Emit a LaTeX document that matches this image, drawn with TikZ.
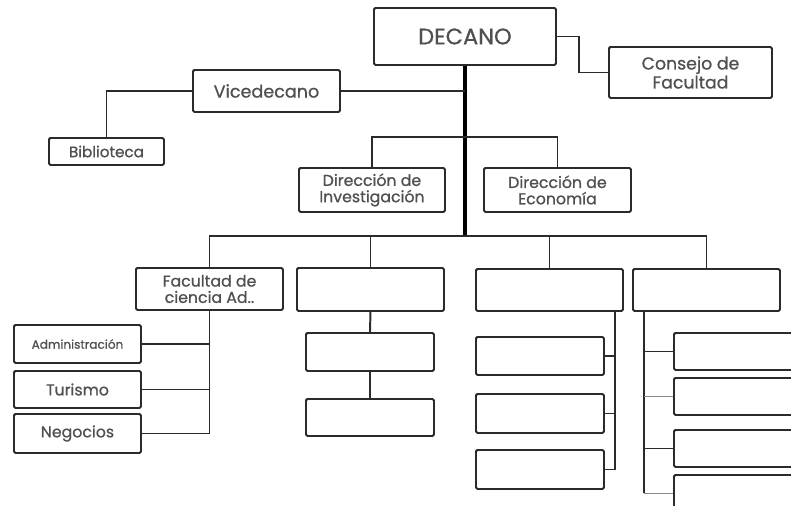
\documentclass[tikz,border=0pt]{standalone}
\usepackage{fontspec}
\setmainfont{Poppins}[FakeBold=0.8]
\usepackage{xcolor}
\usetikzlibrary{positioning, calc}
\definecolor{linea}{HTML}{2B2B2B}
\definecolor{texto}{HTML}{505050}
\definecolor{tenue}{HTML}{8A8A8A}

\begin{document}
\begin{tikzpicture}[x=0.025cm, y=-0.025cm,
    caja/.style={draw=linea, line width=1.4pt, rounded corners=1pt, anchor=north west,
                 inner sep=0pt, align=center, text=texto, font=\fontsize{11.2}{11.6}\selectfont},
    tam/.style 2 args={minimum width=#1*0.025cm, minimum height=#2*0.025cm},
    grande/.style={font=\fontsize{12.5}{15}\selectfont},
    chica/.style={font=\fontsize{8.6}{10}\selectfont},
    rama/.style={draw=linea, line width=1.4pt},
    tronco/.style={draw=black, line width=2.2pt},
    ramatenue/.style={draw=tenue, line width=0.8pt}]

    % --- Page ---
    \useasboundingbox (0,0) rectangle (791,506);
    \fill[white] (0,0) rectangle (791,506);
    \clip (0,0) rectangle (791,506);

    % --- Top level ---
    \node[caja, font=\fontsize{16}{18}\selectfont, tam={182}{57}] (decano) at (373,7) {DECANO};
    \node[caja, font=\fontsize{12.3}{13.5}\selectfont, tam={163}{51}] (consejo) at (608,46) {Consejo de\\Facultad};
    \node[caja, grande, tam={147}{42}] (vicedecano) at (192,69) {Vicedecano};
    \node[caja, font=\fontsize{10.8}{12}\selectfont, tam={115}{27}] (biblioteca) at (48,137) {Biblioteca};

    % --- Direcciones ---
    \node[caja, tam={146}{44}] (dirinv) at (298,167) {Dirección de\\Investigación};
    \node[caja, tam={147}{44}] (direco) at (483,167) {Dirección de\\Economía};

    % --- Second row ---
    \node[caja, tam={147}{42}] (facultad) at (135,267) {Facultad de\\ciencia Ad..};
    \node[caja, tam={147}{43}] (col2) at (296,267) {};
    \node[caja, tam={147}{42}] (col3) at (475,268) {};
    \node[caja, tam={147}{42}] (col4) at (632,268) {};

    % --- Facultad subunits ---
    \node[caja, chica, tam={127}{38}] (adm) at (13,324) {Administración};
    \node[caja, tam={127}{37}] (tur) at (13,370) {Turismo};
    \node[caja, tam={127}{39}] (neg) at (13,413) {Negocios};

    % --- Empty subunits ---
    \node[caja, tam={128}{38}] (col2a) at (305,332) {};
    \node[caja, tam={128}{37}] (col2b) at (305,398) {};
    \node[caja, tam={128}{38}] (col3a) at (475,336) {};
    \node[caja, tam={128}{39}] (col3b) at (475,393) {};
    \node[caja, tam={128}{39}] (col3c) at (475,449) {};
    \node[caja, tam={147}{37}] (col4a) at (673,332) {};
    \node[caja, tam={147}{37}] (col4b) at (673,377) {};
    \node[caja, tam={147}{37}] (col4c) at (673,429) {};
    \node[caja, tam={147}{37}] (col4d) at (673,474) {};

    % --- Helper coordinates ---
    \coordinate (bus) at (0,236);
    \coordinate (ramal) at (0,137);
    \coordinate (eje3) at ($(col3.south east)+(-9,0)$);
    \coordinate (eje4) at ($(col4.south west)+(12,0)$);

    % --- Main trunk ---
    \draw[tronco] (decano.south) -- (decano.south |- bus);

    % --- Upper branches ---
    \draw[rama] (decano.east) -- ++(22,0) |- (consejo.west);
    \draw[rama] (vicedecano.east) -- (vicedecano.east -| decano.south);
    \draw[rama] (vicedecano.west) -| (biblioteca.north);
    \draw[rama] (dirinv.north) -- (dirinv.north |- ramal) -| (direco.north);

    % --- Bus to second row ---
    \draw[rama] (facultad.north) -- (facultad.north |- bus) -| (col4.north);
    \draw[rama] (col2.north) -- (col2.north |- bus);
    \draw[rama] (col3.north) -- (col3.north |- bus);

    % --- Facultad column ---
    \draw[rama] (facultad.south) |- (neg.east);
    \foreach \n in {adm,tur}
        \draw[rama] (\n.east) -- (\n.east -| facultad.south);

    % --- Column 2 ---
    \draw[rama] (col2.south) -- (col2a.north);
    \draw[rama] (col2a.south) -- (col2b.north);

    % --- Column 3 ---
    \draw[rama] (eje3) |- (col3c.east);
    \foreach \n in {col3a,col3b}
        \draw[rama] (\n.east) -- (eje3 |- \n.east);

    % --- Column 4 ---
    \draw[rama] (eje4) -- (eje4 |- col4d.west);
    \foreach \n in {col4a,col4c}
        \draw[rama] (\n.west) -- (eje4 |- \n.west);
    \foreach \n in {col4b,col4d}
        \draw[ramatenue] (\n.west) -- (eje4 |- \n.west);

\end{tikzpicture}
\end{document}
